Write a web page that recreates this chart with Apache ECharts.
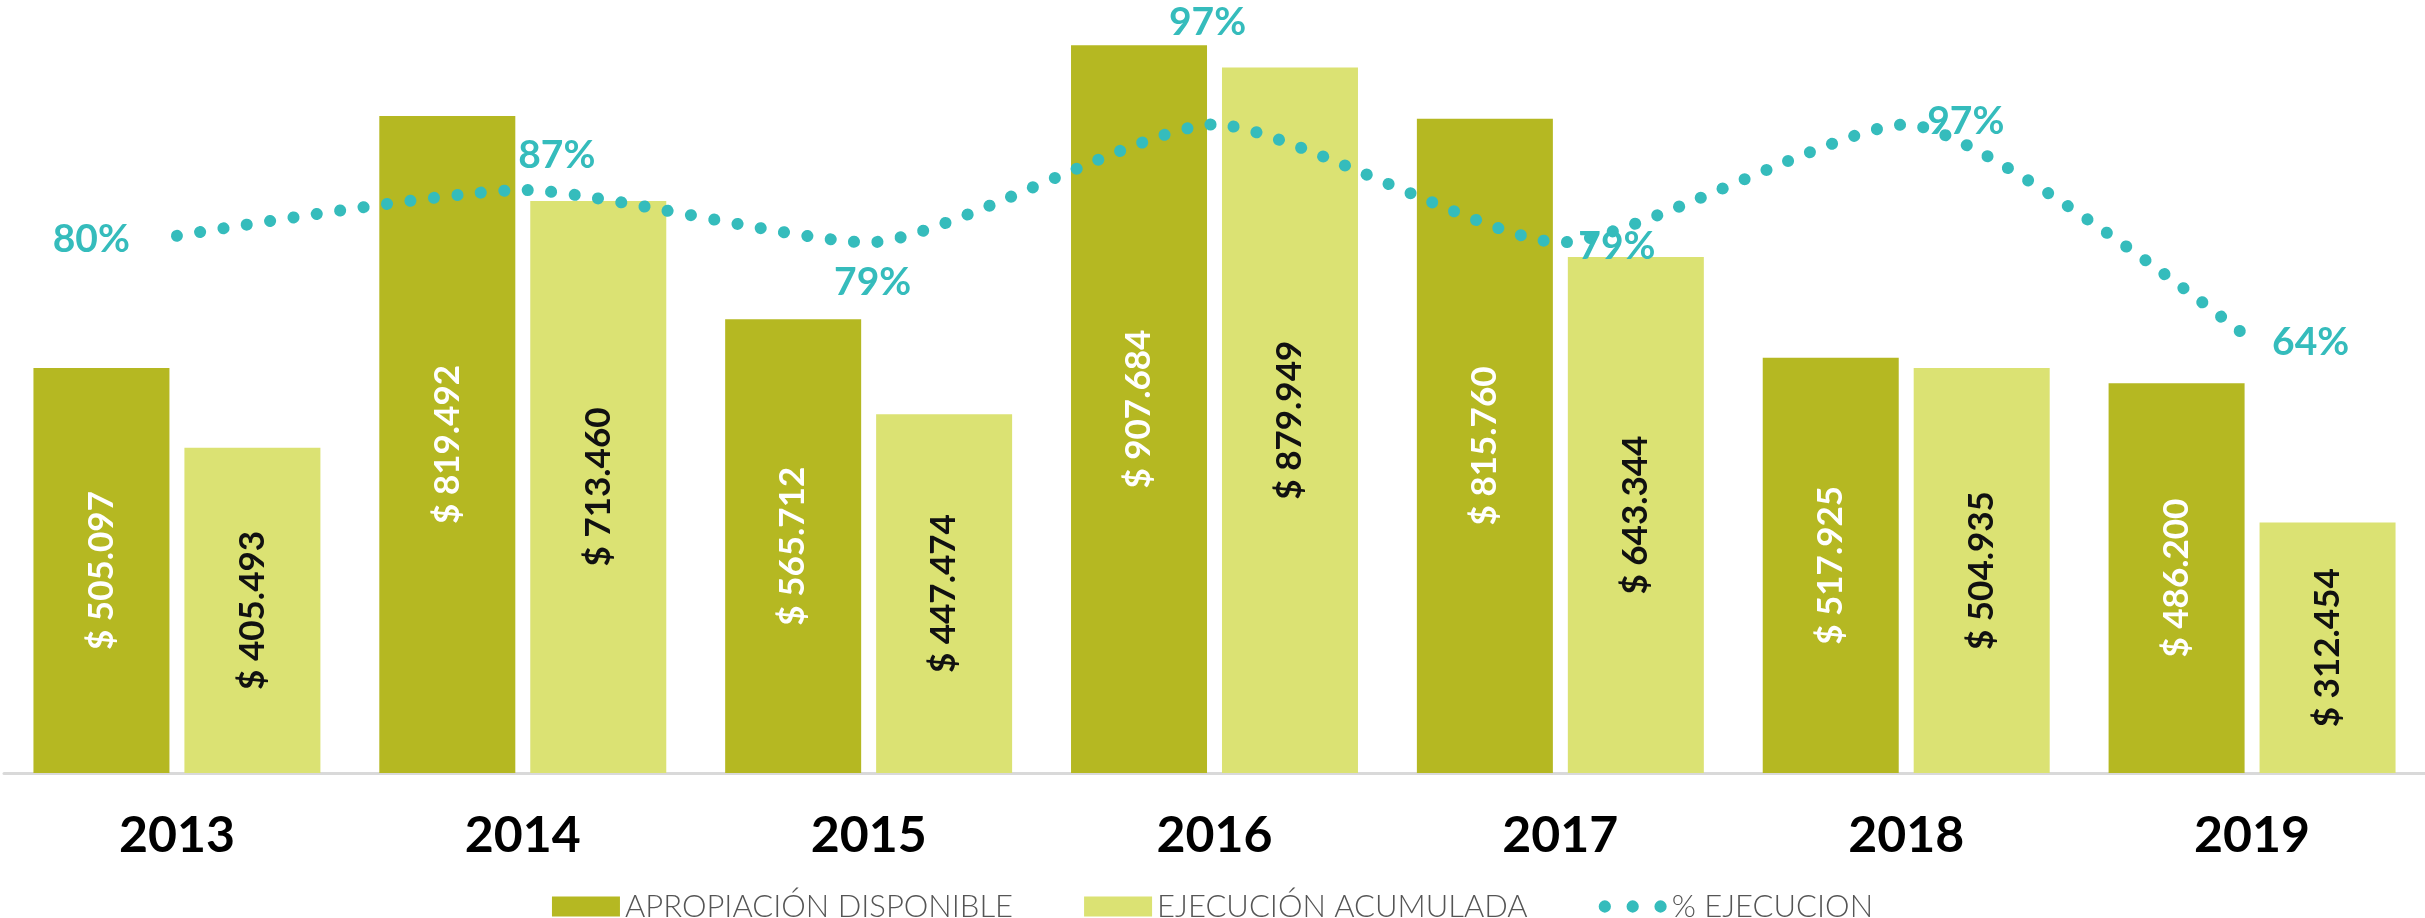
<!DOCTYPE html>
<html>
<head>
<meta charset="utf-8">
<script src="https://cdn.jsdelivr.net/npm/echarts@6/dist/echarts.min.js"></script>
<style>
  html, body { margin: 0; padding: 0; background: #fff; }
  #chart { width: 2425px; height: 918px; }
</style>
</head>
<body>
<div id="chart"></div>
<script>
// años
var years = ['2013', '2014', '2015', '2016', '2017', '2018', '2019'];
// apropiacion disponible
var apropiacion = [505097, 819492, 565712, 907684, 815760, 517925, 486200];
// ejecucion acumulada
var ejecucion = [405493, 713460, 447474, 879949, 643344, 504935, 312454];
// % ejecucion
var pctEjecucion = [80, 87, 79, 97, 79, 97, 64];

var DARK = '#B5B822';
var LIGHT = '#DBE273';
var TEAL = '#35BCBC';
var FONT = 'Lato';

function pesos(p) {
    return '$ ' + String(p.value).replace(/\B(?=(\d{3})+(?!\d))/g, '.');
}

// donde va cada etiqueta de %
var pctLabelPos = [
    { position: 'left', distance: 47, offset: [0, 4] },
    { position: 'top', offset: [34, -10] },
    { position: 'bottom', offset: [4, 16] },
    { position: 'top', offset: [-7, -78] },
    { position: 'right', offset: [13, 4] },
    { position: 'right', offset: [16, -3] },
    { position: 'right', offset: [15, 2] }
];

var pctData = [];
for (var i = 0; i < pctEjecucion.length; i++) {
    pctData.push({ value: pctEjecucion[i], label: pctLabelPos[i] });
}

var myChart = echarts.init(document.getElementById('chart'));
var option = {
    animation: false,
    backgroundColor: '#fff',
    grid: { left: 4, right: 0, top: 0, bottom: 145 },
    legend: {
        top: 886,
        left: 'center',
        itemWidth: 68,
        itemHeight: 20,
        itemGap: 71,
        textStyle: { fontFamily: FONT, fontWeight: 300, fontSize: 31, color: '#555' },
        data: [
            { name: 'APROPIACIÓN DISPONIBLE', icon: 'rect' },
            { name: 'EJECUCIÓN ACUMULADA', icon: 'rect' },
            { name: '% EJECUCION', icon: 'path://M0,5.5a5.5,5.5 0 1,0 11,0a5.5,5.5 0 1,0 -11,0ZM25,5.5a5.5,5.5 0 1,0 11,0a5.5,5.5 0 1,0 -11,0ZM50,5.5a5.5,5.5 0 1,0 11,0a5.5,5.5 0 1,0 -11,0Z' }
        ]
    },
    xAxis: {
        type: 'category',
        data: years,
        axisLine: { lineStyle: { color: '#D9D9D9', width: 3 } },
        axisTick: { show: false },
        axisLabel: { fontFamily: FONT, fontWeight: 'bold', fontSize: 50, color: '#000', margin: 38 }
    },
    yAxis: [
        { type: 'value', min: 0, max: 964000, show: false, splitLine: { show: false } },
        { type: 'value', min: -2, max: 116, show: false, splitLine: { show: false } }
    ],
    series: [
        {
            name: 'APROPIACIÓN DISPONIBLE',
            type: 'bar',
            data: apropiacion,
            barWidth: 136,
            barGap: '11%',
            itemStyle: { color: DARK },
            label: {
                show: true, position: 'inside', rotate: 90,
                formatter: pesos,
                fontFamily: FONT, fontWeight: 'bold', fontSize: 35, color: '#fff'
            }
        },
        {
            name: 'EJECUCIÓN ACUMULADA',
            type: 'bar',
            data: ejecucion,
            barWidth: 136,
            itemStyle: { color: LIGHT },
            label: {
                show: true, position: 'inside', rotate: 90,
                formatter: pesos,
                fontFamily: FONT, fontWeight: 'bold', fontSize: 35, color: '#111'
            }
        },
        {
            name: '% EJECUCION',
            type: 'line',
            yAxisIndex: 1,
            data: pctData,
            smooth: 0.2,
            symbol: 'circle',
            symbolSize: 0,
            itemStyle: { color: TEAL },
            lineStyle: { color: TEAL, width: 12, type: [0.1, 23.5], cap: 'round' },
            label: {
                show: true,
                formatter: '{c}%',
                fontFamily: FONT, fontWeight: 'bold', fontSize: 39, color: TEAL
            },
            z: 5
        }
    ]
};

myChart.setOption(option);
</script>
</body>
</html>
